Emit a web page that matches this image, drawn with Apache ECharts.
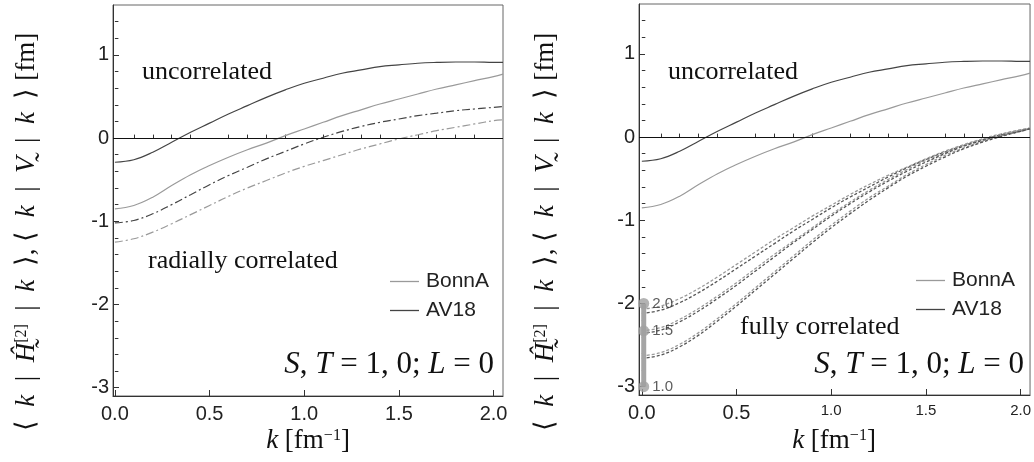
<!DOCTYPE html>
<html><head><meta charset="utf-8">
<script src="https://cdn.jsdelivr.net/npm/echarts@6/dist/echarts.min.js"></script>
<style>html,body{margin:0;padding:0;background:#fff}#c{width:1034px;height:462px}</style>
</head><body><div id="c"></div>
<script>
// ---- data ----
const kValues = [0,0.1,0.2,0.3,0.4,0.5,0.6,0.7,0.8,0.9,1.0,1.1,1.2,1.3,1.4,1.5,1.6,1.7,1.8,1.9,2.0,2.05];
const av18Uncorr = [-0.29,-0.26,-0.17,-0.05,0.07,0.18,0.29,0.39,0.49,0.58,0.66,0.72,0.78,0.82,0.86,0.88,0.9,0.91,0.915,0.915,0.91,0.91];
const bonnUncorr = [-0.85,-0.81,-0.71,-0.57,-0.44,-0.33,-0.23,-0.14,-0.06,0.03,0.11,0.19,0.27,0.34,0.41,0.47,0.53,0.59,0.64,0.69,0.74,0.77];
const av18Radial = [-1.02,-0.99,-0.91,-0.8,-0.68,-0.56,-0.45,-0.35,-0.25,-0.16,-0.07,0.01,0.08,0.14,0.19,0.23,0.27,0.3,0.33,0.35,0.37,0.38];
const bonnRadial = [-1.25,-1.21,-1.13,-1.03,-0.92,-0.81,-0.7,-0.6,-0.51,-0.42,-0.34,-0.27,-0.2,-0.13,-0.07,-0.01,0.04,0.09,0.13,0.17,0.21,0.22];
const av18Full20 = [-2.12,-2.08,-1.99,-1.87,-1.73,-1.58,-1.43,-1.28,-1.13,-0.99,-0.85,-0.72,-0.6,-0.48,-0.37,-0.27,-0.18,-0.1,-0.03,0.03,0.08,0.1];
const bonnFull20 = [-2.07,-2.03,-1.94,-1.82,-1.68,-1.53,-1.38,-1.23,-1.09,-0.95,-0.82,-0.69,-0.57,-0.46,-0.36,-0.26,-0.17,-0.09,-0.02,0.04,0.09,0.11];
const av18Full15 = [-2.36,-2.32,-2.22,-2.09,-1.94,-1.78,-1.61,-1.44,-1.27,-1.11,-0.95,-0.8,-0.66,-0.53,-0.41,-0.3,-0.2,-0.11,-0.04,0.02,0.07,0.1];
const bonnFull15 = [-2.33,-2.29,-2.19,-2.06,-1.91,-1.75,-1.58,-1.41,-1.25,-1.09,-0.93,-0.78,-0.64,-0.51,-0.39,-0.28,-0.19,-0.1,-0.03,0.03,0.08,0.1];
const av18Full10 = [-2.66,-2.62,-2.52,-2.38,-2.21,-2.03,-1.84,-1.65,-1.46,-1.27,-1.09,-0.92,-0.76,-0.61,-0.47,-0.35,-0.24,-0.14,-0.06,0.01,0.07,0.1];
const bonnFull10 = [-2.63,-2.59,-2.49,-2.35,-2.18,-2.0,-1.81,-1.62,-1.43,-1.24,-1.06,-0.89,-0.73,-0.59,-0.45,-0.33,-0.22,-0.13,-0.05,0.02,0.08,0.1];
const lambdaLabels = ['2.0','1.5','1.0'];
const lambdaY = [-2,-2.33,-3];
const lambdaK = 0.01;
const xMajorTicks = [0,0.5,1,1.5,2];
const xMinorTicks = [0.1,0.2,0.3,0.4,0.6,0.7,0.8,0.9,1.1,1.2,1.3,1.4,1.6,1.7,1.8,1.9];
const yMajorTicks = [-3,-2,-1,0,1];
const yMinorTicks = [-2.8,-2.6,-2.4,-2.2,-1.8,-1.6,-1.4,-1.2,-0.8,-0.6,-0.4,-0.2,0.2,0.4,0.6,0.8,1.2,1.4];

// ---- style ----
const SANS = 'Liberation Sans, Arial, sans-serif';
const SERIF = 'Liberation Serif, Times New Roman, serif';
const DARK = '#444', LIGHT = '#9a9a9a', AXIS = '#333';

const pairs = arr => kValues.map((k,i)=>[k,arr[i]]);

const grids = [
  {left:113, top:5, width:390, height:391, show:true, borderColor:'#666', borderWidth:1},
  {left:639, top:4, width:393, height:391, show:true, borderColor:'#666', borderWidth:1}
];
const xMins = [-0.01, -0.015];
const xAxes = [], yAxes = [];
[0,1].forEach(g=>{
  xAxes.push({type:'value', gridIndex:g, min:xMins[g], max:2.05, position:'bottom',
    axisLine:{show:true, onZero:false, lineStyle:{color:AXIS,width:1}},
    axisTick:{show:true, inside:true, length:6, customValues:xMajorTicks, lineStyle:{color:AXIS}},
    axisLabel:{customValues:xMajorTicks, margin:8, color:'#222', fontFamily:SANS, fontSize:20,
      formatter: g===0 ? (v=>v.toFixed(1)) : (v=> v<0.75 ? '{b|'+v.toFixed(1)+'}' : '{s|'+v.toFixed(1)+'}'),
      rich:{b:{fontSize:20,fontFamily:SANS,color:'#222'}, s:{fontSize:15,fontFamily:SANS,color:'#222'}}},
    splitLine:{show:false}});
  xAxes.push({type:'value', gridIndex:g, min:xMins[g], max:2.05, position:'bottom',
    axisLine:{show:false},
    axisTick:{show:true, inside:true, length:3.5, customValues:xMinorTicks, lineStyle:{color:AXIS}},
    axisLabel:{show:false}, splitLine:{show:false}});
  yAxes.push({type:'value', gridIndex:g, min:-3.1, max:1.6, position:'left',
    axisLine:{show:true, onZero:false, lineStyle:{color:AXIS,width:1}},
    axisTick:{show:true, inside:true, length:6, customValues:yMajorTicks, lineStyle:{color:AXIS}},
    axisLabel:{customValues:yMajorTicks, margin:4, color:'#222', fontFamily:SANS, fontSize:20, formatter:v=>String(v)},
    splitLine:{show:false}});
  yAxes.push({type:'value', gridIndex:g, min:-3.1, max:1.6, position:'left',
    axisLine:{show:false},
    axisTick:{show:true, inside:true, length:3.5, customValues:yMinorTicks, lineStyle:{color:AXIS}},
    axisLabel:{show:false}, splitLine:{show:false}});
});

function lineSeries(name, arr, g, color, type, width){
  return {type:'line', name, data:pairs(arr), xAxisIndex:2*g, yAxisIndex:2*g,
    smooth:0.4, showSymbol:false, symbol:'none', silent:true,
    itemStyle:{color}, lineStyle:{color, width:width||1.2, type:type||'solid'}};
}
const dashDot = [8,3,2,3];
const dashed = [3,2];
const series = [];
const zeroLine = g => ({type:'line', name:'zero'+g, data:[], xAxisIndex:2*g, yAxisIndex:2*g, silent:true,
  markLine:{silent:true, symbol:['none','none'], label:{show:false}, lineStyle:{color:'#111',width:1,type:'solid'},
    emphasis:{disabled:true}, data:[{yAxis:0}]}});
series.push(zeroLine(0), zeroLine(1));
// left panel
series.push(lineSeries('BonnA', bonnUncorr, 0, LIGHT));
series.push(lineSeries('AV18', av18Uncorr, 0, DARK));
series.push(lineSeries('BonnA', bonnRadial, 0, LIGHT, dashDot));
series.push(lineSeries('AV18', av18Radial, 0, DARK, dashDot));
// right panel
series.push(lineSeries('BonnA', bonnUncorr, 1, LIGHT));
series.push(lineSeries('AV18', av18Uncorr, 1, DARK));
series.push(lineSeries('BonnA', bonnFull20, 1, LIGHT, dashed, 1.3));
series.push(lineSeries('AV18', av18Full20, 1, '#555', dashed, 1.3));
series.push(lineSeries('BonnA', bonnFull15, 1, LIGHT, dashed, 1.3));
series.push(lineSeries('AV18', av18Full15, 1, '#555', dashed, 1.3));
series.push(lineSeries('BonnA', bonnFull10, 1, LIGHT, dashed, 1.3));
series.push(lineSeries('AV18', av18Full10, 1, '#555', dashed, 1.3));
// lambda scale bar
series.push({type:'line', name:'lambdaBar', xAxisIndex:2, yAxisIndex:2, silent:true, showSymbol:false, symbol:'none',
  data:[[lambdaK, lambdaY[0]],[lambdaK, lambdaY[2]]], lineStyle:{color:'#a5a5a5', width:5}, itemStyle:{color:'#a5a5a5'}, z:5});
series.push({type:'scatter', name:'lambdaDots', xAxisIndex:2, yAxisIndex:2, silent:true, symbolSize:11,
  data:lambdaY.map(y=>[lambdaK,y]), itemStyle:{color:'#a0a0a0'}, z:6,
  label:{show:true, position:'right', distance:3, formatter:p=>lambdaLabels[p.dataIndex], fontFamily:SANS, fontSize:15, color:'#333'}});

const ES = '\u2002';
const yTitle = '⟨'+ES+'{i|k}'+ES+'|'+ES+'{i|\u0124\u0330}{sup|[2]}'+ES+'|'+ES+'{i|k}'+ES+'⟩, ⟨'+ES+'{i|k}'+ES+'|'+ES+'{i|V\u0330}'+ES+'|'+ES+'{i|k}'+ES+'⟩ [fm]';
const xTitle = '{i|k} [fm{sup|−1}]';
function txt(x, y, text, size, align, extra){
  return Object.assign({type:'text', x, y, silent:true, style:{text, fontFamily:SERIF, fontSize:size, fill:'#111',
    align:align||'left', verticalAlign:'middle',
    rich:{i:{fontStyle:'italic', fontFamily:SERIF, fontSize:size, fill:'#111'}, sup:{fontFamily:SERIF, fontSize:Math.round(size*0.6), verticalAlign:'top', fill:'#111'}}}}, extra||{});
}
const graphic = [
  txt(27, 232, yTitle, 27, 'center', {rotation:Math.PI/2}),
  txt(546, 232, yTitle, 27, 'center', {rotation:Math.PI/2}),
  txt(308, 441, xTitle, 27, 'center'),
  txt(834, 441, xTitle, 27, 'center'),
  txt(142, 72, 'uncorrelated', 26, 'left'),
  txt(148, 261, 'radially correlated', 26, 'left'),
  txt(668, 72, 'uncorrelated', 26, 'left'),
  txt(740, 327, 'fully correlated', 26, 'left'),
  txt(494, 365, '{i|S}, {i|T} = 1, 0; {i|L} = 0', 31, 'right'),
  txt(1024, 365, '{i|S}, {i|T} = 1, 0; {i|L} = 0', 31, 'right')
];

const legendCommon = {orient:'vertical', icon:'rect', itemWidth:29, itemHeight:1.3, itemGap:8,
  selectedMode:false, data:['BonnA','AV18'], textStyle:{fontFamily:SANS, fontSize:21, color:'#222', padding:[0,0,0,2]}};

const chart = echarts.init(document.getElementById('c'), null, {renderer:'canvas'});
chart.setOption({
  animation:false,
  backgroundColor:'#fff',
  grid:grids, xAxis:xAxes, yAxis:yAxes, series,
  legend:[Object.assign({left:385, top:266}, legendCommon), Object.assign({left:911, top:265}, legendCommon)],
  graphic
});
</script></body></html>
